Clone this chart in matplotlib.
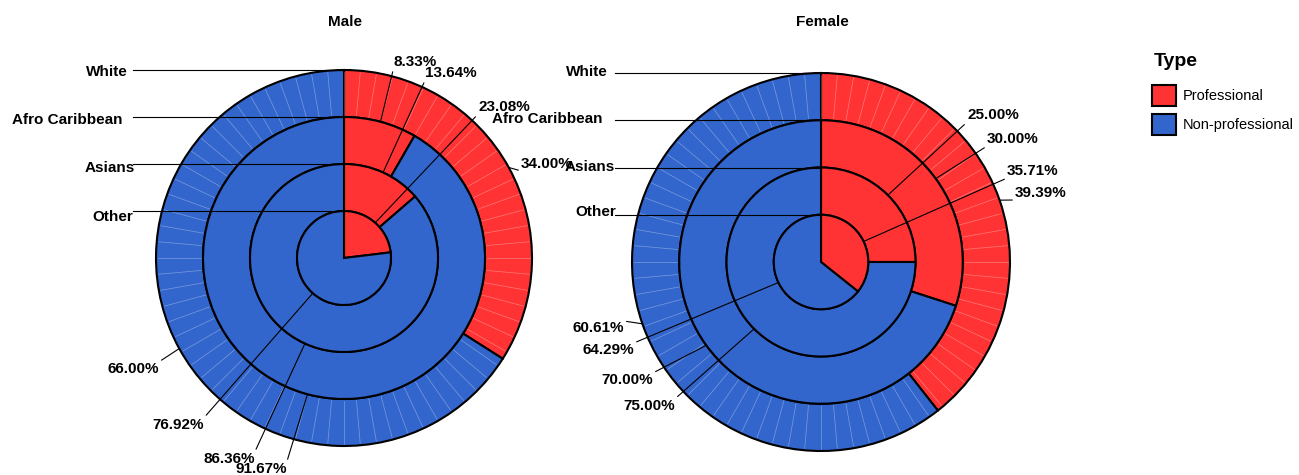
import matplotlib
matplotlib.use("Agg")
import matplotlib.pyplot as plt
from matplotlib.patches import Patch
from matplotlib.font_manager import FontProperties
import numpy as np

# ethnic groups, listed from the outer ring inward
groups = ["White", "Afro Caribbean", "Asians", "Other"]
types = ["Professional", "Non-professional"]

male_prof = [34.00, 8.33, 13.64, 23.08]
male_nonprof = [66.00, 91.67, 86.36, 76.92]
female_prof = [39.39, 30.00, 25.00, 35.71]
female_nonprof = [60.61, 70.00, 75.00, 64.29]

RED = "#FF3333"
BLUE = "#3366CC"
W, H = 1299, 475
MAIN_FONT = "Liberation Sans"
FS = 11

plt.rcParams["font.family"] = [MAIN_FONT, "DejaVu Sans"]

# panel layout in pixel units (y measured from the top edge)
panels = {
    "Male": dict(
        prof=male_prof, nonprof=male_nonprof,
        center=(344, 258), radius=188, title_x=345,
        cat_right=[128, 123, 135, 133], cat_y=[72, 120, 168, 217], cat_line_x=133,
        prof_txt=[(547, 164), (415, 62), (451, 73), (504, 107)],
        nonprof_txt=[(133, 369), (261, 469), (229, 459), (178, 425)],
    ),
    "Female": dict(
        prof=female_prof, nonprof=female_nonprof,
        center=(821, 262), radius=189, title_x=822,
        cat_right=[608, 603, 615, 616], cat_y=[72, 119, 167, 212], cat_line_x=615,
        prof_txt=[(1041, 193), (1013, 139), (993, 115), (1033, 171)],
        nonprof_txt=[(598, 328), (627, 380), (649, 406), (608, 350)],
    ),
}


def to_data(x, y):
    return x, H - y


fig = plt.figure(figsize=(W / 100, H / 100), dpi=100)
ax = fig.add_axes([0, 0, 1, 1])

for name, p in panels.items():
    cx, cy = to_data(*p["center"])
    R = p["radius"]
    n = len(groups)
    step = R / n

    for i, (pv, qv) in enumerate(zip(p["prof"], p["nonprof"])):
        r_out = R - i * step
        width = step if i < n - 1 else r_out
        ax.pie([pv, qv], colors=[RED, BLUE], startangle=90, counterclock=False,
               radius=r_out, center=(cx, cy), normalize=True,
               wedgeprops=dict(width=width, edgecolor="black", linewidth=1.5))

        # faint seams across the outer ring
        if i == 0:
            r_in = r_out - step
            for a in np.deg2rad(np.arange(0, 360, 5)):
                ax.plot([cx + (r_in + 2) * np.sin(a), cx + (r_out - 2) * np.sin(a)],
                        [cy + (r_in + 2) * np.cos(a), cy + (r_out - 2) * np.cos(a)],
                        color="white", lw=0.5, alpha=0.35, zorder=3)

        # percentage labels tied to the middle of each arc
        mids = [pv / 2, pv + qv / 2]
        vals = [pv, qv]
        txts = [p["prof_txt"][i], p["nonprof_txt"][i]]
        rel = [(0, 0), (1, 1)]
        for m, v, t, rp in zip(mids, vals, txts, rel):
            a = np.deg2rad(m / 100 * 360)
            xy = (cx + r_out * np.sin(a), cy + r_out * np.cos(a))
            ax.annotate(f"{v:.2f}%", xy=xy, xytext=to_data(*t),
                        ha="center", va="center", fontsize=FS, fontweight="bold",
                        arrowprops=dict(arrowstyle="-", lw=0.8, color="black",
                                        shrinkA=0, shrinkB=0, relpos=rp),
                        zorder=6)

        # group name with a leader line to the top of its ring
        ty = H - p["cat_y"][i]
        ax.plot([p["cat_line_x"], cx], [cy + r_out, cy + r_out],
                color="black", lw=0.8, zorder=5)
        ax.text(p["cat_right"][i], ty, groups[i], ha="right", va="center",
                fontsize=FS, fontweight="bold", zorder=6)

    ax.text(p["title_x"], H - 22, name, ha="center", va="center",
            fontsize=FS, fontweight="bold")

ax.set_xlim(0, W)
ax.set_ylim(0, H)
ax.set_aspect("equal")
ax.axis("off")

# legend: heading set on its own so the gap above the keys can be controlled
fig.text(1154 / W, 1 - 62 / H, "Type", ha="left", va="center",
         fontsize=14, fontweight="bold")
handles = [Patch(facecolor=RED, edgecolor="black", linewidth=1.5),
           Patch(facecolor=BLUE, edgecolor="black", linewidth=1.5)]
leg = fig.legend(handles, types, loc="upper left",
                 bbox_to_anchor=(1152 / W, 1 - 85 / H), frameon=False,
                 prop=FontProperties(family=MAIN_FONT, size=10.5),
                 handlelength=1.65, handleheight=1.85, handletextpad=0.45,
                 labelspacing=0.55, borderpad=0, borderaxespad=0)

fig.savefig("out.png", dpi=100)
